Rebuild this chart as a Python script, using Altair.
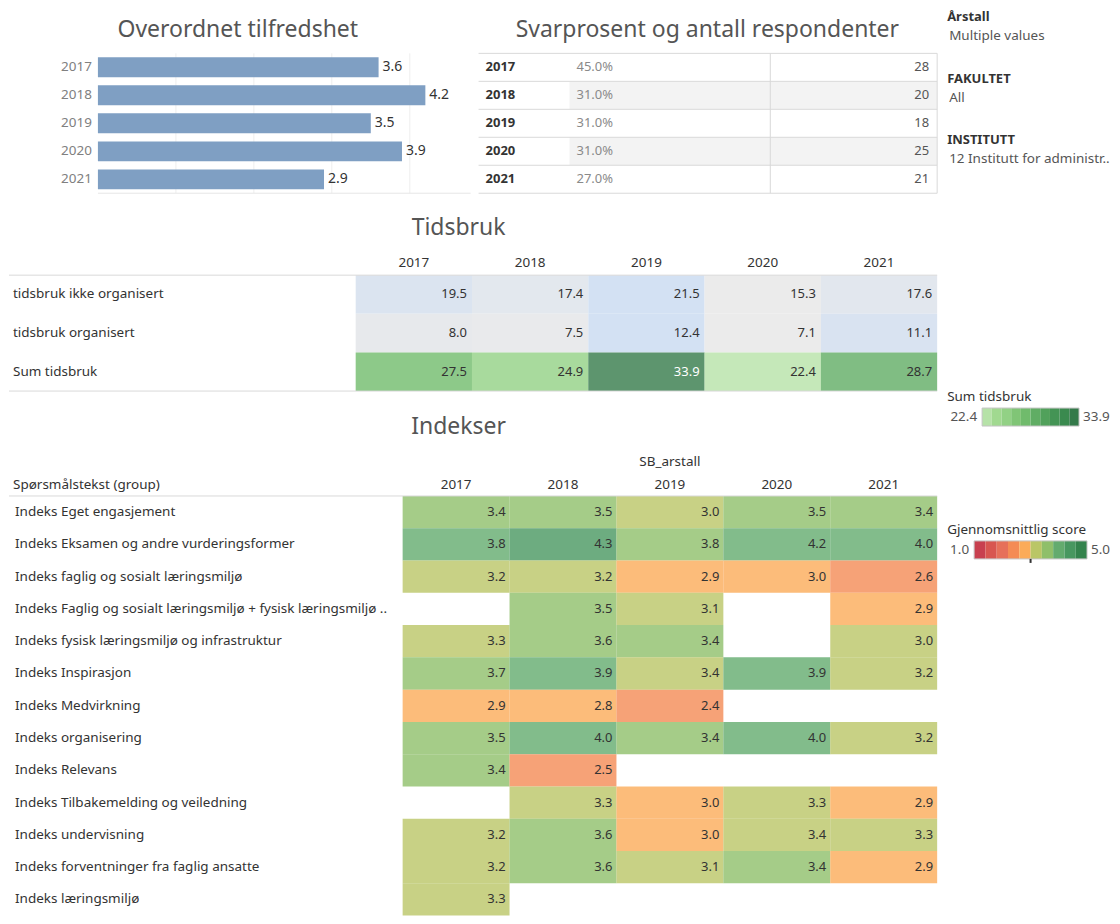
import altair as alt
import pandas as pd

FONT = "Noto Sans"
TXT = "#333333"
LINE = "#d9d9d9"
TITLE_COLOR = "#555555"

# ---------------- data ----------------
years = ["2017", "2018", "2019", "2020", "2021"]
overall = [3.6, 4.2, 3.5, 3.9, 2.9]
overall_grid = [1, 2, 3, 4]
resp_rate = [0.45, 0.31, 0.31, 0.31, 0.27]
respondents = [28, 20, 18, 25, 21]

time_rows = ["tidsbruk ikke organisert", "tidsbruk organisert", "Sum tidsbruk"]
time_unorganised = [19.5, 17.4, 21.5, 15.3, 17.6]
time_organised = [8.0, 7.5, 12.4, 7.1, 11.1]
time_sum = [27.5, 24.9, 33.9, 22.4, 28.7]

index_rows = [
    "Indeks Eget engasjement",
    "Indeks Eksamen og andre vurderingsformer",
    "Indeks faglig og sosialt læringsmiljø",
    "Indeks Faglig og sosialt læringsmiljø + fysisk læringsmiljø ..",
    "Indeks fysisk læringsmiljø og infrastruktur",
    "Indeks Inspirasjon",
    "Indeks Medvirkning",
    "Indeks organisering",
    "Indeks Relevans",
    "Indeks Tilbakemelding og veiledning",
    "Indeks undervisning",
    "Indeks forventninger fra faglig ansatte",
    "Indeks læringsmiljø",
]
index_2017 = [3.4, 3.8, 3.2, None, 3.3, 3.7, 2.9, 3.5, 3.4, None, 3.2, 3.2, 3.3]
index_2018 = [3.5, 4.3, 3.2, 3.5, 3.6, 3.9, 2.8, 4.0, 2.5, 3.3, 3.6, 3.6, None]
index_2019 = [3.02, 3.78, 2.9, 3.1, 3.4, 3.38, 2.4, 3.4, None, 2.97, 2.97, 3.1, None]
index_2020 = [3.5, 4.18, 2.97, None, None, 3.9, None, 4.0, None, 3.3, 3.38, 3.4, None]
index_2021 = [3.4, 4.0, 2.58, 2.9, 3.02, 3.2, None, 3.2, None, 2.9, 3.3, 2.9, None]

filter_names = ["Årstall", "FAKULTET", "INSTITUTT"]
filter_values = ["Multiple values", "All", "12 Institutt for administr.."]

score_domain = [1.0, 5.0]
score_center = 3.0
score_colors = ["#c8404f", "#d85650", "#e6705a", "#f48b55", "#fbab59",
                "#bac666", "#8fbf6a", "#63ab6e", "#489760", "#34834d"]
sum_colors = ["#b6e2a8", "#a1d990", "#92d185", "#80c576", "#70bb6c",
              "#60ad64", "#51a15b", "#449455", "#3a8a4f", "#347a4a"]

# ---------------- tables ----------------
bar_df = pd.DataFrame({"year": years, "score": overall})
grid_df = pd.DataFrame({"g": overall_grid})
svar_df = pd.DataFrame({"year": years, "pct": resp_rate, "n": respondents})
time_df = pd.DataFrame(
    [{"row": r, "year": y, "value": v}
     for r, vals in zip(time_rows, [time_unorganised, time_organised, time_sum])
     for y, v in zip(years, vals)]
)
index_cols = [index_2017, index_2018, index_2019, index_2020, index_2021]
index_df = pd.DataFrame(
    [{"row": r, "year": y, "score": col[i]}
     for y, col in zip(years, index_cols)
     for i, r in enumerate(index_rows) if col[i] is not None]
)
one = pd.DataFrame({"k": [0]})
year_df = pd.DataFrame({"year": years})

# ---------------- layout (pixels inside the view) ----------------
W, H = 1104, 908
A_X, A_Y = [89, 462], [45, 185]
B_X = [470, 561, 762, 929]
T_X, T_Y = [347, 929], [267, 383]
I_X, I_Y = [394, 929], [488, 908]
R_X = 939


def rule(x, x2, y, y2=None, color=LINE):
    enc = dict(x=alt.value(x), x2=alt.value(x2), y=alt.value(y))
    if y2 is not None:
        enc["y2"] = alt.value(y2)
    return alt.Chart(one).mark_rule(color=color, strokeWidth=1).encode(**enc)


def label(text, x, y, size=13.5, color=TXT, align="left", weight="normal"):
    return alt.Chart(one).mark_text(
        align=align, baseline="middle", fontSize=size, color=color, fontWeight=weight
    ).encode(x=alt.value(x), y=alt.value(y), text=alt.value(text))


def title(text, x, y):
    return label(text, x, y, size=23, color=TITLE_COLOR, align="center")


# ---------------- Overordnet tilfredshet ----------------
xa = alt.X("score:Q", axis=None,
           scale=alt.Scale(domain=[0, 4.78], range=A_X, nice=False, zero=True))
xg = alt.X("g:Q", axis=None,
           scale=alt.Scale(domain=[0, 4.78], range=A_X, nice=False, zero=True))
ya = alt.Y("year:N", sort=None, axis=None,
           scale=alt.Scale(domain=years, range=A_Y, paddingInner=0.29, paddingOuter=0.14))
panel_a = alt.layer(
    alt.Chart(grid_df).mark_rule(color="#eeeeee").encode(
        x=xg, y=alt.value(A_Y[0]), y2=alt.value(A_Y[1])),
    rule(A_X[0], A_X[1], A_Y[1], color="#e6e6e6"),
    alt.Chart(bar_df).mark_bar(color="#7f9fc3").encode(x=xa, y=ya),
    alt.Chart(bar_df).mark_text(align="left", baseline="middle", dx=4, fontSize=14,
                                color=TXT).encode(
        x=xa, y=ya, text=alt.Text("score:Q", format=".1f")),
    alt.Chart(bar_df).mark_text(align="right", baseline="middle", fontSize=13.5,
                                color="#808080").encode(
        x=alt.value(A_X[0] - 6), y=ya, text="year:N"),
    title("Overordnet tilfredshet", 229, 22),
)

# ---------------- Svarprosent og antall respondenter ----------------
yb = alt.Y("year:N", sort=None, axis=None,
           scale=alt.Scale(domain=years, range=A_Y, paddingInner=0, paddingOuter=0))
yb_top = alt.Y("year:N", sort=None, axis=None, bandPosition=0,
               scale=alt.Scale(domain=years, range=A_Y, paddingInner=0, paddingOuter=0))
panel_b = alt.layer(
    alt.Chart(svar_df).transform_window(rn="row_number()")
    .transform_filter("datum.rn % 2 == 0")
    .mark_rect(color="#f3f3f3").encode(
        y=yb, x=alt.value(B_X[1]), x2=alt.value(B_X[3])),
    alt.Chart(svar_df).mark_rule(color=LINE).encode(
        y=yb_top, x=alt.value(B_X[0]), x2=alt.value(B_X[3])),
    rule(B_X[0], B_X[3], A_Y[1]),
    rule(B_X[2], B_X[2], A_Y[0], A_Y[1]),
    rule(B_X[3], B_X[3], A_Y[0], A_Y[1]),
    alt.Chart(svar_df).mark_text(align="left", baseline="middle", fontSize=13,
                                 fontWeight="bold", color=TXT).encode(
        x=alt.value(B_X[0] + 7), y=yb, text="year:N"),
    alt.Chart(svar_df).mark_text(align="left", baseline="middle", fontSize=13,
                                 color="#8a8a8a").encode(
        x=alt.value(B_X[1] + 7), y=yb, text=alt.Text("pct:Q", format=".1%")),
    alt.Chart(svar_df).mark_text(align="right", baseline="middle", fontSize=13,
                                 color="#555555").encode(
        x=alt.value(B_X[3] - 8), y=yb, text=alt.Text("n:Q", format="d")),
    title("Svarprosent og antall respondenter", 699, 22),
)

# ---------------- Tidsbruk ----------------
tx = alt.X("year:N", sort=None, axis=None,
           scale=alt.Scale(domain=years, range=T_X, paddingInner=0, paddingOuter=0))
tx_end = alt.X("year:N", sort=None, axis=None, bandPosition=1,
               scale=alt.Scale(domain=years, range=T_X, paddingInner=0, paddingOuter=0))
ty = alt.Y("row:N", sort=None, axis=None,
           scale=alt.Scale(domain=time_rows, range=T_Y, paddingInner=0, paddingOuter=0))
tbase = alt.Chart(time_df).transform_joinaggregate(
    vmin="min(value)", vmax="max(value)", groupby=["row"]
).transform_calculate(norm="(datum.value - datum.vmin) / (datum.vmax - datum.vmin)")
panel_t = alt.layer(
    tbase.transform_filter("datum.row != 'Sum tidsbruk'").mark_rect().encode(
        x=tx, y=ty,
        color=alt.Color("norm:Q", legend=None,
                        scale=alt.Scale(domain=[0, 1], range=["#ebebeb", "#d3e1f3"]))),
    tbase.transform_filter("datum.row == 'Sum tidsbruk'").mark_rect(opacity=0.8).encode(
        x=tx, y=ty,
        fill=alt.Fill("value:Q", legend=None,
                      scale=alt.Scale(type="quantize", range=sum_colors))),
    tbase.mark_text(align="right", baseline="middle", dx=-5, fontSize=13).encode(
        x=tx_end, y=ty, text=alt.Text("value:Q", format=".1f"),
        color=alt.condition("datum.row == 'Sum tidsbruk' && datum.norm > 0.8",
                            alt.value("white"), alt.value(TXT))),
    alt.Chart(year_df).mark_text(baseline="middle", fontSize=13.5, color=TXT).encode(
        x=tx, y=alt.value(T_Y[0] - 12), text="year:N"),
    alt.Chart(pd.DataFrame({"row": time_rows})).mark_text(
        align="left", baseline="middle", fontSize=13.5, color=TXT).encode(
        x=alt.value(4), y=ty, text="row:N"),
    rule(0, T_X[1], T_Y[0]),
    rule(0, T_X[1], T_Y[1]),
    title("Tidsbruk", 450, 220),
)

# ---------------- Indekser ----------------
ix = alt.X("year:N", sort=None, axis=None,
           scale=alt.Scale(domain=years, range=I_X, paddingInner=0, paddingOuter=0))
ix_end = alt.X("year:N", sort=None, axis=None, bandPosition=1,
               scale=alt.Scale(domain=years, range=I_X, paddingInner=0, paddingOuter=0))
iy = alt.Y("row:N", sort=None, axis=None,
           scale=alt.Scale(domain=index_rows, range=I_Y, paddingInner=0, paddingOuter=0))
steps = len(score_colors)
thresholds = [round(score_domain[0] + (score_domain[1] - score_domain[0]) * i / steps, 2)
              for i in range(1, steps)]
panel_i = alt.layer(
    alt.Chart(index_df).mark_rect(opacity=0.8).encode(
        x=ix, y=iy,
        color=alt.Color("score:Q", legend=None,
                        scale=alt.Scale(type="threshold", domain=thresholds,
                                        range=score_colors))),
    alt.Chart(index_df).mark_text(align="right", baseline="middle", dx=-4, fontSize=13,
                                  color=TXT).encode(
        x=ix_end, y=iy, text=alt.Text("score:Q", format=".1f")),
    alt.Chart(year_df).mark_text(baseline="middle", fontSize=13.5, color=TXT).encode(
        x=ix, y=alt.value(I_Y[0] - 11), text="year:N"),
    alt.Chart(pd.DataFrame({"row": index_rows})).mark_text(
        align="left", baseline="middle", fontSize=13.5, color=TXT).encode(
        x=alt.value(6), y=iy, text="row:N"),
    label("Spørsmålstekst (group)", 4, I_Y[0] - 11),
    label("SB_arstall", (I_X[0] + I_X[1]) / 2, I_Y[0] - 34, align="center"),
    rule(0, I_X[1], I_Y[0]),
    title("Indekser", 450, 419),
)

# ---------------- filters ----------------
fdf = pd.DataFrame({"name": filter_names, "value": filter_values})
fy = alt.Y("name:N", sort=None, axis=None,
           scale=alt.Scale(type="point", domain=filter_names, range=[9, 132], padding=0))
panel_f = alt.layer(
    alt.Chart(fdf).mark_text(align="left", baseline="middle", fontSize=13,
                             fontWeight="bold", color=TXT).encode(
        x=alt.value(R_X), y=fy, text="name:N"),
    alt.Chart(fdf).mark_text(align="left", baseline="middle", fontSize=13.5,
                             color="#555555", dy=19).encode(
        x=alt.value(R_X + 2), y=fy, text="value:N"),
)


# ---------------- colour legends ----------------
def legend_panel(key, name, colors, lo, hi, x0, x1, ty0, y0, y1, center=None, domain=None):
    sdf = pd.DataFrame({key: list(range(len(colors)))})
    ym = (y0 + y1) / 2
    layers = [
        alt.Chart(sdf).mark_rect().encode(
            x=alt.X(f"{key}:O", axis=None,
                    scale=alt.Scale(range=[x0, x1], paddingInner=0, paddingOuter=0)),
            y=alt.value(y0), y2=alt.value(y1),
            color=alt.Color(f"{key}:O", legend=None, scale=alt.Scale(range=colors))),
        alt.Chart(one).mark_rect(fillOpacity=0, stroke="#c4c4c4", strokeWidth=1).encode(
            x=alt.value(x0), x2=alt.value(x1), y=alt.value(y0), y2=alt.value(y1)),
        label(name, R_X, ty0, size=13.5),
        label(lo, x0 - 5, ym, size=13.5, color="#555555", align="right"),
        label(hi, x1 + 4, ym, size=13.5, color="#555555"),
    ]
    if center is not None:
        layers.append(
            alt.Chart(pd.DataFrame({"c": [center]})).mark_rule(
                color="#333333", strokeWidth=2).encode(
                x=alt.X("c:Q", axis=None,
                        scale=alt.Scale(domain=domain, range=[x0, x1], nice=False,
                                        zero=False)),
                y=alt.value(y1), y2=alt.value(y1 + 4)))
    return alt.layer(*layers)


panel_ls = legend_panel("sum_step", "Sum tidsbruk", sum_colors,
                        f"{min(time_sum):.1f}", f"{max(time_sum):.1f}",
                        974, 1071, 389, 400, 418)
panel_lc = legend_panel("score_step", "Gjennomsnittlig score", score_colors,
                        f"{score_domain[0]:.1f}", f"{score_domain[1]:.1f}",
                        966, 1079, 522, 533, 551,
                        center=score_center, domain=score_domain)

# ---------------- assemble ----------------
chart = alt.layer(
    panel_a, panel_b, panel_t, panel_i, panel_f, panel_ls, panel_lc
).resolve_scale(
    x="independent", y="independent", color="independent", fill="independent"
).properties(
    width=W, height=H, padding={"left": 0, "top": 0, "right": 0, "bottom": 0}
).configure(font=FONT, background="white").configure_view(stroke="transparent")

chart.save("out.html", embed_options={"renderer": "svg", "actions": False})
